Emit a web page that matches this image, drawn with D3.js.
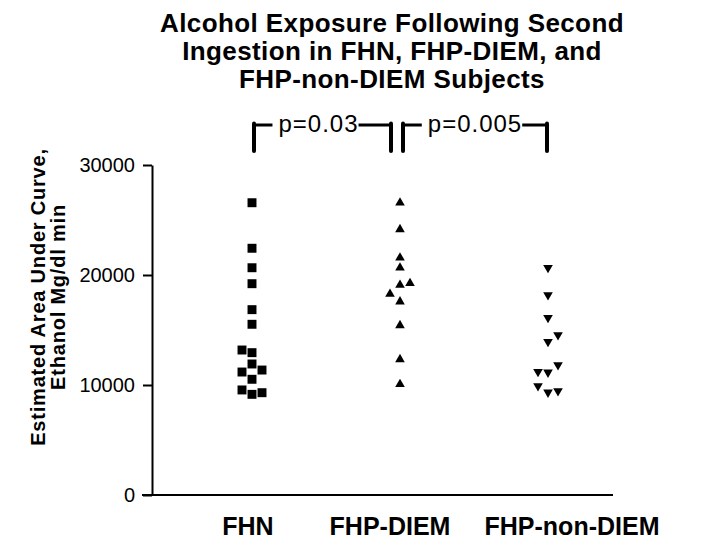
<!DOCTYPE html>
<html>
<head>
<meta charset="utf-8">
<script src="https://cdn.jsdelivr.net/npm/d3@7"></script>
<style>
  body { margin: 0; background: #fff; }
  text { font-family: "Liberation Sans", Arial, sans-serif; fill: #000; }
  .title { font-size: 26px; font-weight: bold; text-anchor: middle; letter-spacing: 0.4px; }
  .axis-label { font-size: 20px; font-weight: bold; text-anchor: middle; letter-spacing: 0.8px; }
  .cat-label { font-size: 25px; font-weight: bold; text-anchor: middle; }
  .pval { font-size: 24px; letter-spacing: 1px; text-anchor: middle; }
</style>
</head>
<body>
<div id="chart"></div>
<script>
// 1: DATA
const categories = ["FHN", "FHP-DIEM", "FHP-non-DIEM"];
const fhnValues = [26570, 22430, 20660, 19210, 16850, 15520, 12940, 11910, 11360, 11180, 13180, 10520, 9150, 9300, 9550];
const diemValues = [26570, 24150, 21570, 20660, 19090, 19250, 18270, 17580, 15420, 12330, 10060];
const nonDiemValues = [20660, 18180, 16120, 13940, 14550, 11150, 11210, 11820, 9330, 9450, 9910];
const yTicks = [0, 10000, 20000, 30000];
const titleLines = ["Alcohol Exposure Following Second", "Ingestion in FHN, FHP-DIEM, and", "FHP-non-DIEM Subjects"];
const yLabelLines = ["Estimated Area Under Curve,", "Ethanol Mg/dl min"];
const comparisons = [
    { from: "FHN", to: "FHP-DIEM", label: "p=0.03" },
    { from: "FHP-DIEM", to: "FHP-non-DIEM", label: "p=0.005" }
];

const groups = [
    { name: categories[0], values: fhnValues, shape: "square" },
    { name: categories[1], values: diemValues, shape: "up" },
    { name: categories[2], values: nonDiemValues, shape: "down" }
];

// 2: SVG + MARGINS
const W = 702, H = 542;
const margin = { top: 165, right: 89, bottom: 47, left: 152 },
      width = W - margin.left - margin.right,
      height = H - margin.top - margin.bottom;

const svg = d3.select("#chart").append("svg")
    .attr("width", W)
    .attr("height", H);

const g = svg.append("g")
    .attr("transform", `translate(${margin.left},${margin.top})`);

// 3: SCALES
const x = d3.scalePoint()
    .domain(categories)
    .range([100, 396]);

const y = d3.scaleLinear()
    .domain([0, 30000])
    .range([height, 0]);

// 4: AXES
const yAxis = g.append("g")
    .call(d3.axisLeft(y).tickValues(yTicks).tickFormat(d3.format("d")).tickSize(9).tickPadding(8).tickSizeOuter(0));
yAxis.select(".domain").attr("stroke-width", 2);
yAxis.selectAll(".tick line").attr("stroke-width", 2);
yAxis.selectAll(".tick text")
    .style("font-size", "20px")
    .style("font-family", "'Liberation Sans', Arial, sans-serif")
    .attr("fill", "#222");

// x axis: baseline + category labels (labels nudged like the original)
g.append("line")
    .attr("x1", -10).attr("x2", width)
    .attr("y1", height).attr("y2", height)
    .attr("stroke", "#000").attr("stroke-width", 2);

const labelNudge = [-4, -10, 24];
g.selectAll(".cat-label")
    .data(categories)
    .enter()
    .append("text")
    .attr("class", "cat-label")
    .attr("x", (d, i) => x(d) + labelNudge[i])
    .attr("y", height + 40)
    .text(d => d);

// 5: POINTS (simple column scatter: shift a point sideways when it overlaps)
const step = 10, minGap = 9.5;
function layout(values) {
    const placed = [];
    values.forEach(v => {
        const py = y(v);
        const clearance = col => {
            const ds = placed.filter(p => p.col === col).map(p => Math.abs(p.py - py));
            return ds.length ? d3.min(ds) : Infinity;
        };
        let col = 0;
        if (clearance(0) < minGap) {
            for (let k = 1; k < 5; k++) {
                const l = clearance(-k), r = clearance(k);
                if (l >= minGap || r >= minGap) {
                    col = (r >= minGap && r >= l) ? k : -k;
                    break;
                }
            }
        }
        placed.push({ value: v, py: py, col: col });
    });
    return placed;
}

const symbolFor = {
    square: d3.symbol().type(d3.symbolSquare).size(80)(),
    up: d3.symbol().type(d3.symbolTriangle).size(40)(),
    down: d3.symbol().type(d3.symbolTriangle).size(40)()
};

groups.forEach(grp => {
    g.append("g")
        .selectAll("path")
        .data(layout(grp.values))
        .enter()
        .append("path")
        .attr("d", symbolFor[grp.shape])
        .attr("fill", "#000")
        .attr("transform", d => `translate(${x(grp.name) + d.col * step},${d.py})` + (grp.shape === "down" ? " rotate(180)" : ""));
});

// 6: SIGNIFICANCE BRACKETS
const bTop = -40, bBottom = -14;
comparisons.forEach((c, i) => {
    const x1 = x(c.from) + (i === 0 ? 2 : 3),
          x2 = x(c.to) - (i === 0 ? 9 : 1);
    const t = g.append("text")
        .attr("class", "pval")
        .attr("x", (x1 + x2) / 2 - (i === 0 ? 4 : 0))
        .attr("y", bTop + 7)
        .text(c.label);
    const bb = t.node().getBBox();
    g.append("line")
        .attr("x1", x1).attr("x2", bb.x - 6)
        .attr("y1", bTop).attr("y2", bTop)
        .attr("stroke", "#000").attr("stroke-width", 3);
    g.append("line")
        .attr("x1", bb.x + bb.width).attr("x2", x2)
        .attr("y1", bTop).attr("y2", bTop)
        .attr("stroke", "#000").attr("stroke-width", 3);
    [x1, x2].forEach(xx => {
        g.append("line")
            .attr("x1", xx).attr("x2", xx)
            .attr("y1", bTop - 1.5).attr("y2", bBottom)
            .attr("stroke", "#000").attr("stroke-width", 4)
            .attr("stroke-linecap", "round");
    });
});

// 7: LABELS
svg.append("g")
    .selectAll("text")
    .data(titleLines)
    .enter()
    .append("text")
    .attr("class", "title")
    .attr("x", 392)
    .attr("y", (d, i) => 32 + i * 28)
    .text(d => d);

svg.append("g")
    .selectAll("text")
    .data(yLabelLines)
    .enter()
    .append("text")
    .attr("class", "axis-label")
    .attr("transform", (d, i) => `translate(${45 + i * 20},${margin.top + 132}) rotate(-90)`)
    .text(d => d);
</script>
</body>
</html>
